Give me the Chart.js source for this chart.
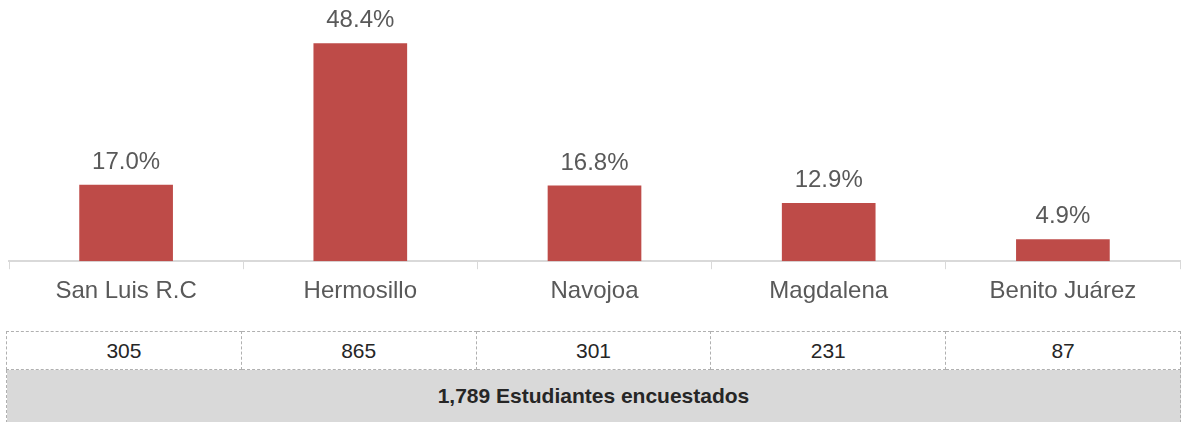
<!DOCTYPE html>
<html>
<head>
<meta charset="utf-8">
<script src="https://cdn.jsdelivr.net/npm/chart.js@4/dist/chart.umd.min.js"></script>
<style>
  body { margin: 0; background: #fff; font-family: "Liberation Sans", Arial, sans-serif; }
  #wrap { position: relative; width: 1181px; height: 422px; }
  #chartBox { position: absolute; left: 0; top: 0; width: 1181px; height: 314px; }
  #tabla { position: absolute; left: 6px; top: 331px; width: 1175px; border-collapse: collapse; table-layout: fixed; }
  #tabla td { border: 1px dashed #b0b0b0; text-align: center; font-size: 21px; color: #262626; padding: 0; }
  #tabla tr.cnt td { height: 37px; }
  #tabla tr.tot td { height: 52px; background: #d9d9d9; font-weight: bold; }
</style>
</head>
<body>
<div id="wrap">
  <div id="chartBox"><canvas id="barChart"></canvas></div>
  <table id="tabla"></table>
</div>
<script>
// === Datos ===
const campus = ['San Luis R.C', 'Hermosillo', 'Navojoa', 'Magdalena', 'Benito Juárez'];
const porcentajes = [17.0, 48.4, 16.8, 12.9, 4.9];
const estudiantes = [305, 865, 301, 231, 87];
const totalTexto = '1,789 Estudiantes encuestados';

// === Etiquetas sobre las barras ===
const etiquetasBarras = {
  id: 'etiquetasBarras',
  afterDatasetsDraw(chart) {
    const ctx = chart.ctx;
    const meta = chart.getDatasetMeta(0);
    ctx.save();
    ctx.font = '24px "Liberation Sans", Arial, sans-serif';
    ctx.fillStyle = '#595959';
    ctx.textAlign = 'center';
    ctx.textBaseline = 'alphabetic';
    meta.data.forEach((bar, i) => {
      ctx.fillText(porcentajes[i].toFixed(1) + '%', bar.x, bar.y - 16);
    });
    ctx.restore();
  }
};

new Chart(document.getElementById('barChart'), {
  type: 'bar',
  data: {
    labels: campus,
    datasets: [{
      data: porcentajes,
      backgroundColor: '#be4b48',
      categoryPercentage: 1,
      barPercentage: 0.4
    }]
  },
  options: {
    responsive: true,
    maintainAspectRatio: false,
    animation: false,
    layout: { padding: { left: 9, right: 1, top: 36, bottom: 0 } },
    plugins: { legend: { display: false }, tooltip: { enabled: false } },
    scales: {
      x: {
        offset: true,
        grid: { display: true, offset: true, drawOnChartArea: false, tickLength: 8, color: '#d9d9d9', lineWidth: 1 },
        border: { display: true, color: '#d9d9d9', width: 2 },
        ticks: { color: '#595959', font: { size: 24, family: '"Liberation Sans", Arial, sans-serif' }, padding: 8, maxRotation: 0 }
      },
      y: {
        display: false,
        min: 0,
        max: 50
      }
    }
  },
  plugins: [etiquetasBarras]
});

// === Tabla de estudiantes ===
const tabla = document.getElementById('tabla');
const filaCnt = document.createElement('tr');
filaCnt.className = 'cnt';
estudiantes.forEach(n => {
  const td = document.createElement('td');
  td.textContent = n;
  filaCnt.appendChild(td);
});
tabla.appendChild(filaCnt);
const filaTot = document.createElement('tr');
filaTot.className = 'tot';
const tdTot = document.createElement('td');
tdTot.colSpan = estudiantes.length;
tdTot.textContent = totalTexto;
filaTot.appendChild(tdTot);
tabla.appendChild(filaTot);
</script>
</body>
</html>
